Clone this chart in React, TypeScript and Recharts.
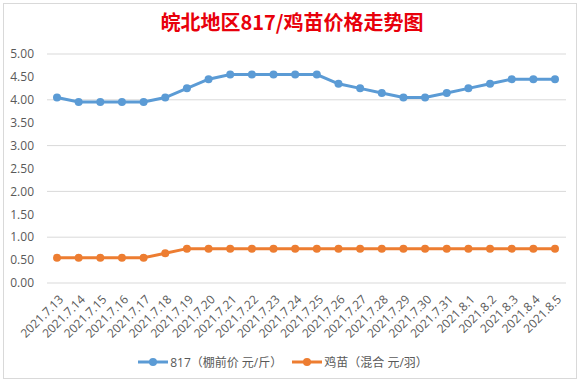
import { LineChart, Line, XAxis, YAxis, CartesianGrid, Legend } from 'recharts'

const dates = [
  '2021.7.13', '2021.7.14', '2021.7.15', '2021.7.16', '2021.7.17', '2021.7.18',
  '2021.7.19', '2021.7.20', '2021.7.21', '2021.7.22', '2021.7.23', '2021.7.24',
  '2021.7.25', '2021.7.26', '2021.7.27', '2021.7.28', '2021.7.29', '2021.7.30',
  '2021.7.31', '2021.8.1', '2021.8.2', '2021.8.3', '2021.8.4', '2021.8.5',
]
const broiler817 = [
  4.05, 3.95, 3.95, 3.95, 3.95, 4.05, 4.25, 4.45, 4.55, 4.55, 4.55, 4.55,
  4.55, 4.35, 4.25, 4.15, 4.05, 4.05, 4.15, 4.25, 4.35, 4.45, 4.45, 4.45,
]
const chick = [
  0.55, 0.55, 0.55, 0.55, 0.55, 0.65, 0.75, 0.75, 0.75, 0.75, 0.75, 0.75,
  0.75, 0.75, 0.75, 0.75, 0.75, 0.75, 0.75, 0.75, 0.75, 0.75, 0.75, 0.75,
]
const yTicks = [0, 0.5, 1, 1.5, 2, 2.5, 3, 3.5, 4, 4.5, 5]

const name817 = '817（棚前价 元/斤）'
const nameChick = '鸡苗（混合 元/羽）'

const chartData = dates.map((d, i) => ({ date: d, a: broiler817[i], b: chick[i] }))

const font = '"Open Sans", "Noto Sans CJK SC", sans-serif'

function XTick(props: any) {
  const { x, y, payload } = props
  return (
    <text
      x={x + 4}
      y={y + 6}
      transform={`rotate(-45, ${x + 4}, ${y + 6})`}
      textAnchor="end"
      dominantBaseline="central"
      fontSize={12}
      fill="#595959"
      fontFamily={font}
    >
      {payload.value}
    </text>
  )
}

function LegendContent() {
  const items = [
    { name: name817, color: '#5B9BD5' },
    { name: nameChick, color: '#ED7D31' },
  ]
  return (
    <div style={{ display: 'flex', justifyContent: 'center', gap: 10, fontFamily: font, fontSize: 12, color: '#595959' }}>
      {items.map(it => (
        <div key={it.name} style={{ display: 'flex', alignItems: 'center' }}>
          <svg width={30} height={10} style={{ marginRight: 2 }}>
            <line x1={0} y1={5} x2={30} y2={5} stroke={it.color} strokeWidth={3} />
            <circle cx={15} cy={5} r={4} fill={it.color} />
          </svg>
          <span>{it.name}</span>
        </div>
      ))}
    </div>
  )
}

export default function App() {
  return (
    <div style={{ position: 'fixed', left: 0, top: 0, width: 584, height: 383, background: '#fff' }}>
      <div
        style={{
          position: 'absolute', left: 3, top: 3, width: 574, height: 376,
          border: '1px solid #d9d9d9', boxSizing: 'border-box',
        }}
      />
      <div
        style={{
          position: 'absolute', left: 0, top: 10, width: 584, textAlign: 'center',
          fontFamily: '"Noto Sans CJK SC", sans-serif', fontWeight: 700, fontSize: 20,
          color: '#e8000b', lineHeight: '24px',
        }}
      >
        皖北地区817/鸡苗价格走势图
      </div>
      <div style={{ position: 'absolute', left: 0, top: 0 }}>
        <LineChart width={584} height={383} data={chartData} margin={{ top: 54, right: 18, bottom: 0, left: 0 }}>
          <CartesianGrid vertical={false} stroke="#d9d9d9" />
          <XAxis
            dataKey="date"
            interval={0}
            height={70}
            padding={{ left: 10, right: 11 }}
            axisLine={false}
            tickLine={false}
            tick={<XTick />}
          />
          <YAxis
            width={47}
            domain={[0, 5]}
            ticks={yTicks}
            tickFormatter={(v: number) => v.toFixed(2)}
            axisLine={false}
            tickLine={false}
            tickMargin={7}
            tick={{ fontSize: 12, fill: '#595959', fontFamily: font }}
          />
          <Legend verticalAlign="bottom" height={30} content={<LegendContent />} />
          <Line
            dataKey="a"
            name={name817}
            stroke="#5B9BD5"
            strokeWidth={3}
            dot={{ r: 4, fill: '#5B9BD5', stroke: '#5B9BD5', strokeWidth: 0 }}
            isAnimationActive={false}
          />
          <Line
            dataKey="b"
            name={nameChick}
            stroke="#ED7D31"
            strokeWidth={3}
            dot={{ r: 4, fill: '#ED7D31', stroke: '#ED7D31', strokeWidth: 0 }}
            isAnimationActive={false}
          />
        </LineChart>
      </div>
    </div>
  )
}
